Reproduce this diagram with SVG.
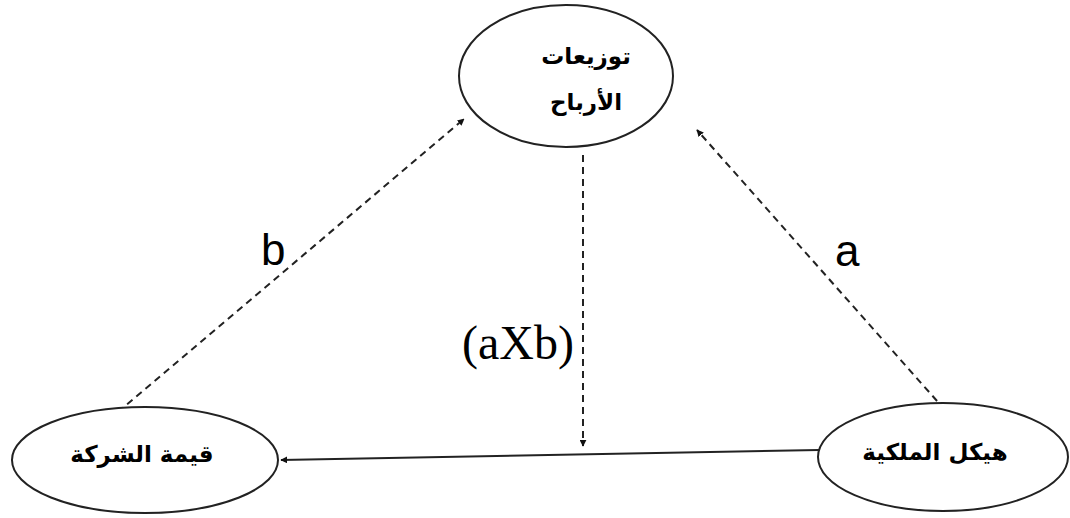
<svg xmlns="http://www.w3.org/2000/svg" width="1070" height="518" viewBox="0 0 1070 518">
<style>
.node{fill:#fff;stroke:#222;stroke-width:2}
.ar{font-family:"DejaVu Sans","Noto Sans",sans-serif;font-weight:bold;font-size:23px;fill:#000;text-anchor:middle}
.lbl{font-family:"Liberation Sans",sans-serif;font-size:44px;fill:#000}
.dash{stroke:#222;stroke-width:2;stroke-dasharray:7,5;fill:none}
.solid{stroke:#222;stroke-width:2;fill:none}
</style>
<defs>
<marker id="ah" viewBox="0 0 10 10" refX="9" refY="5" markerWidth="7" markerHeight="7" markerUnits="userSpaceOnUse" orient="auto">
<path d="M0,0 L10,5 L0,10 z" fill="#111"/>
</marker>
</defs>
<rect width="1070" height="518" fill="#fff"/>
<g id="connectors">
<line class="dash" x1="118" y1="412" x2="464" y2="119" marker-end="url(#ah)"/>
<line class="dash" x1="945" y1="410" x2="697" y2="130" marker-end="url(#ah)"/>
<line class="dash" x1="583" y1="155" x2="583" y2="446" marker-end="url(#ah)"/>
<line class="solid" x1="819" y1="450" x2="281" y2="460" marker-end="url(#ah)"/>
</g>
<g id="node-dividends">
<ellipse class="node" cx="566" cy="76" rx="107" ry="71"/>
<text class="ar" x="586" y="64" direction="rtl">توزيعات</text>
<text class="ar" x="586" y="110" direction="rtl">الأرباح</text>
</g>
<g id="node-firmvalue">
<ellipse class="node" cx="145" cy="460" rx="133" ry="53"/>
<text class="ar" x="142" y="462" direction="rtl">قيمة الشركة</text>
</g>
<g id="node-ownership">
<ellipse class="node" cx="943" cy="457" rx="125" ry="54"/>
<text class="ar" x="935" y="460" direction="rtl">هيكل الملكية</text>
</g>
<g id="labels">
<text class="lbl" x="261" y="265">b</text>
<text class="lbl" x="835" y="266">a</text>
<text class="lbl" x="462" y="359" style="font-family:'Liberation Serif',serif;font-size:48px">(aXb)</text>
</g>
</svg>
